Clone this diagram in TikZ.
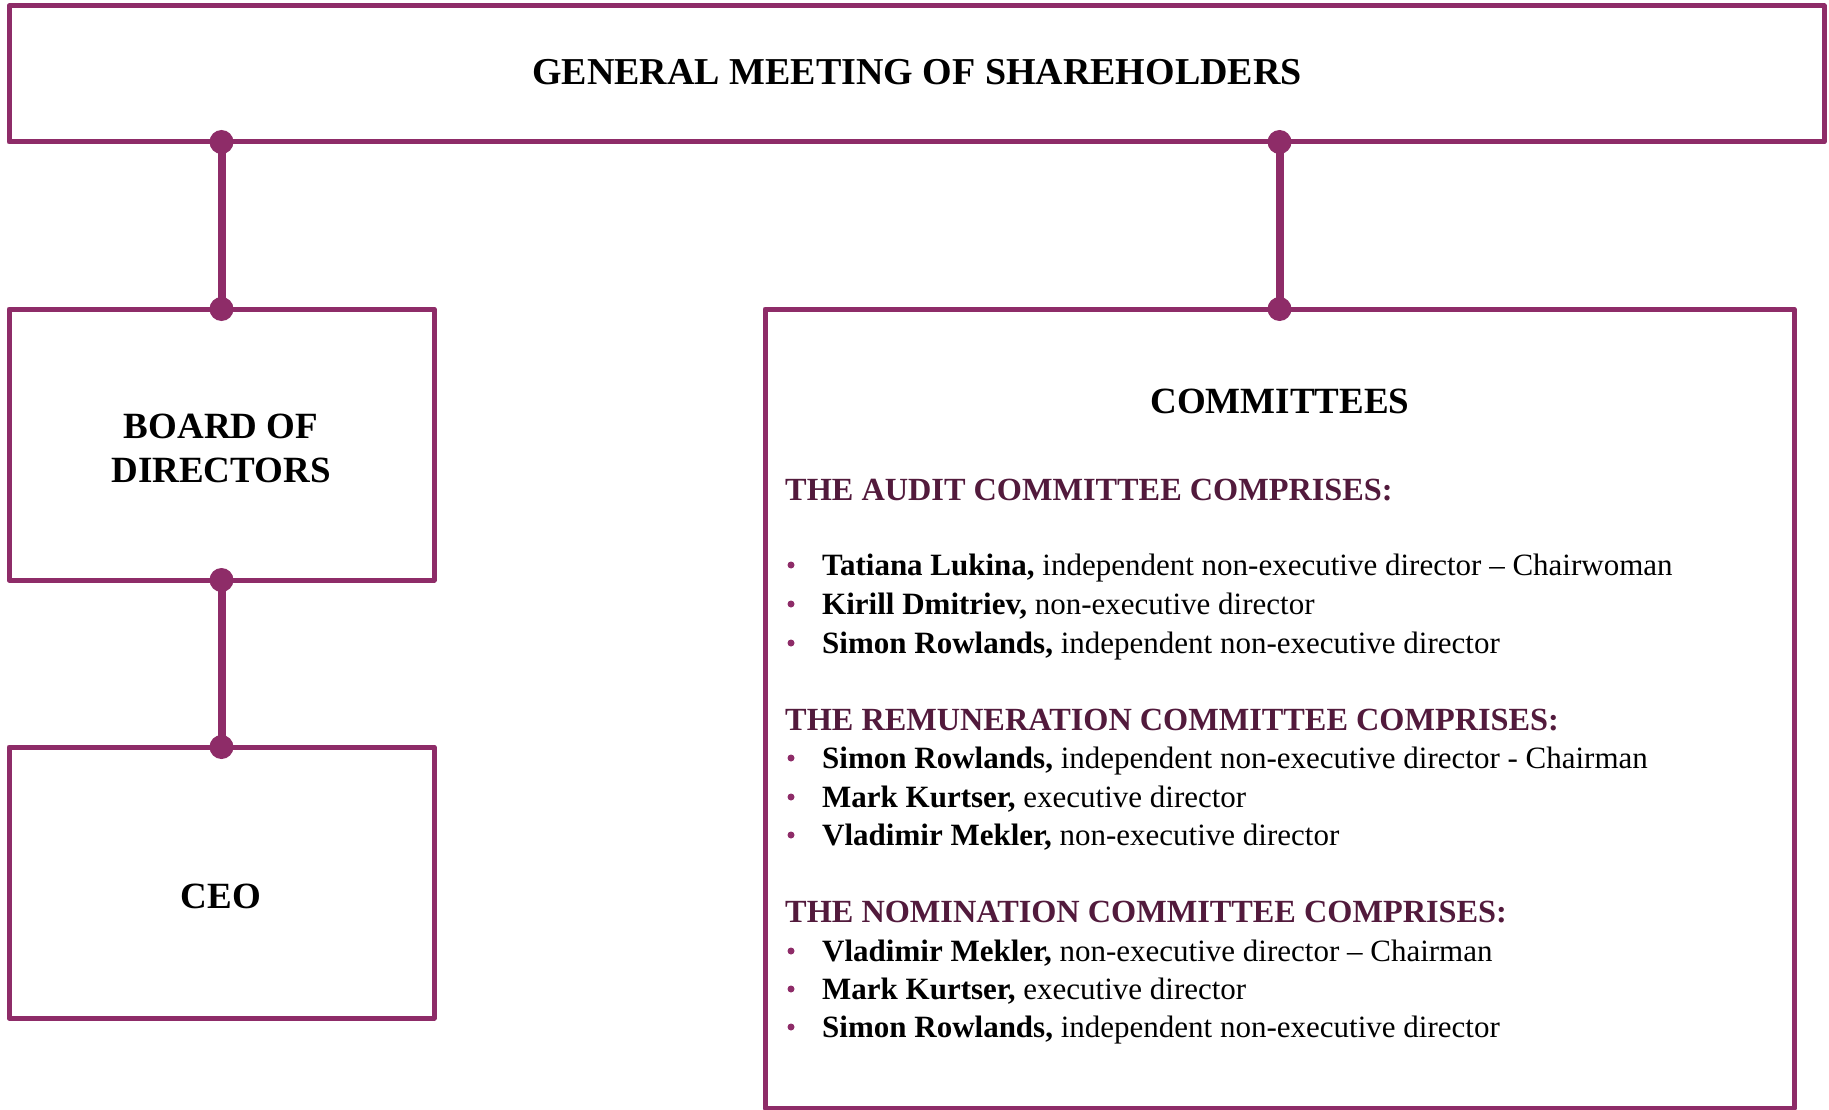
\documentclass[tikz,border=0pt]{standalone}
\usepackage{fontspec}
\setmainfont{Liberation Serif}
\definecolor{plum}{HTML}{8E2C68}
\definecolor{darkplum}{HTML}{521A3C}
\tikzset{
  box/.style={draw=plum,line width=5pt,line join=round,rectangle,inner sep=0pt,outer sep=0pt},
  hdr/.style={font=\fontsize{37}{44}\selectfont\bfseries,inner sep=0pt,align=center},
  sub/.style={font=\fontsize{32.3}{38}\selectfont\bfseries,text=darkplum,anchor=base west,inner sep=0pt},
  item/.style={font=\fontsize{31}{37}\selectfont,anchor=base west,inner sep=0pt},
  bul/.style={circle,fill=plum,minimum size=7pt,inner sep=0pt},
  conn/.style={draw=plum,line width=8pt},
  dotn/.style={circle,fill=plum,minimum size=24pt,inner sep=0pt},
}
\begin{document}
\begin{tikzpicture}[x=1pt,y=-1pt]
\useasboundingbox (0,0) rectangle (1829,1110);
% boxes
\node[box,minimum width=1815pt,minimum height=136pt] (gm) at (916.5,74) {};
\node[box,minimum width=425pt,minimum height=271pt] (board) at (221.5,444.5) {};
\node[box,minimum width=425pt,minimum height=271pt] (ceo) at (221.5,882.5) {};
\node[box,minimum width=1029pt,minimum height=799pt] (comm) at (1279.5,708.5) {};
% box labels
\node[hdr,anchor=base,font=\fontsize{38}{44}\selectfont\bfseries] (gmt) at (917,85) {GENERAL MEETING OF SHAREHOLDERS};
\node[hdr] (boardt) at (221,448) {BOARD OF\\DIRECTORS};
\node[hdr,anchor=base] (ceot) at (221,908) {CEO};
\node[hdr,anchor=base] (commt) at (1280,413) {COMMITTEES};
% connectors
\draw[conn] (board.north |- gm.south) -- (board.north);
\draw[conn] (comm.north |- gm.south) -- (comm.north);
\draw[conn] (board.south) -- (ceo.north);
\node[dotn] (d1) at (board.north |- gm.south) {};
\node[dotn] (d2) at (board.north) {};
\node[dotn] (d3) at (comm.north |- gm.south) {};
\node[dotn] (d4) at (comm.north) {};
\node[dotn] (d5) at (board.south) {};
\node[dotn] (d6) at (ceo.north) {};
% committees content
\node[sub] (h1) at (785,500) {THE AUDIT COMMITTEE COMPRISES:};
\node[bul] (b1) at (791,565) {};
\node[item] (t1) at (822,575) {\textbf{Tatiana Lukina,} independent non-executive director – Chairwoman};
\node[bul] (b2) at (791,604) {};
\node[item] (t2) at (822,614) {\textbf{Kirill Dmitriev,} non-executive director};
\node[bul] (b3) at (791,643) {};
\node[item] (t3) at (822,653) {\textbf{Simon Rowlands,} independent non-executive director};
\node[sub] (h2) at (785,730) {THE REMUNERATION COMMITTEE COMPRISES:};
\node[bul] (b4) at (791,758) {};
\node[item] (t4) at (822,768) {\textbf{Simon Rowlands,} independent non-executive director - Chairman};
\node[bul] (b5) at (791,797) {};
\node[item] (t5) at (822,807) {\textbf{Mark Kurtser,} executive director};
\node[bul] (b6) at (791,835) {};
\node[item] (t6) at (822,845) {\textbf{Vladimir Mekler,} non-executive director};
\node[sub] (h3) at (785,922) {THE NOMINATION COMMITTEE COMPRISES:};
\node[bul] (b7) at (791,951) {};
\node[item] (t7) at (822,961) {\textbf{Vladimir Mekler,} non-executive director – Chairman};
\node[bul] (b8) at (791,989) {};
\node[item] (t8) at (822,999) {\textbf{Mark Kurtser,} executive director};
\node[bul] (b9) at (791,1027) {};
\node[item] (t9) at (822,1037) {\textbf{Simon Rowlands,} independent non-executive director};
\end{tikzpicture}
\end{document}
